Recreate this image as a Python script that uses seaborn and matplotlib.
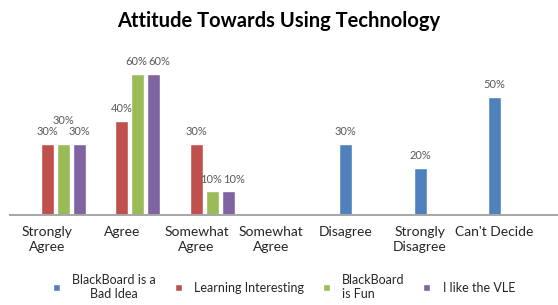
import pandas as pd
import matplotlib
matplotlib.use("Agg")
import matplotlib.pyplot as plt
import seaborn as sns

categories = ["Strongly\nAgree", "Agree", "Somewhat\nAgree", "Somewhat\nAgree",
              "Disagree", "Strongly\nDisagree", "Can't Decide"]
series_names = ["BlackBoard is a\nBad Idea", "Learning Interesting",
                "BlackBoard\nis Fun", "I like the VLE"]
bad_idea = [None, None, None, None, 30, 20, 50]
learning = [30, 40, 30, None, None, None, None]
bb_fun = [30, 60, 10, None, None, None, None]
like_vle = [30, 60, 10, None, None, None, None]

colors = ["#4F81BD", "#C0504D", "#9BBB59", "#8064A2"]
# where each series sits inside a category slot
offsets = [0.0, 0.0, 0.215, 0.43]

rows = []
for name, vals, off in zip(series_names, [bad_idea, learning, bb_fun, like_vle], offsets):
    for i, v in enumerate(vals):
        if v is not None:
            rows.append({"series": name, "pos": i + off, "value": v})
df = pd.DataFrame(rows)

sns.set_theme(style="white")
plt.rcParams["font.family"] = ["Lato", "DejaVu Sans"]

fig = plt.figure(figsize=(5.58, 3.05), dpi=100)
ax = fig.add_axes([0.018, 0.295, 0.982, 0.541])

sns.barplot(data=df, x="pos", y="value", hue="series", hue_order=series_names,
            palette=colors, native_scale=True, dodge=False, width=0.81,
            saturation=1, ax=ax)

label_sets = []
for cont in ax.containers:
    label_sets.append(ax.bar_label(cont, fmt="%g%%", padding=5, fontsize=8,
                                   color="#595959"))

# Excel nudges labels so neighbours don't collide
for t in label_sets[2]:
    x, y = t.xy
    if abs(x - 0.215) < 0.01:
        t.xyann = (t.xyann[0], t.xyann[1] + 8)
for tg, tp in zip(label_sets[2], label_sets[3]):
    if abs(tg.xy[1] - tp.xy[1]) < 0.01 and tg.xy[0] > 0.5:
        tg.xyann = (tg.xyann[0] - 1, tg.xyann[1])
        tp.xyann = (tp.xyann[0] + 4, tp.xyann[1])

ax.set_xlim(-0.5, 6.85)
ax.set_ylim(0, 70)
ax.set_xticks(range(len(categories)))
ax.set_xticklabels(categories, fontsize=10, color="#262626", linespacing=1.25)
ax.tick_params(axis="x", length=0, pad=8)
ax.set_yticks([])
ax.set_xlabel("")
ax.set_ylabel("")
for s in ["top", "right", "left"]:
    ax.spines[s].set_visible(False)
ax.spines["bottom"].set_color("#A6A6A6")
ax.spines["bottom"].set_linewidth(1.4)

fig.text(0.5, 0.93, "Attitude Towards Using Technology", ha="center", va="center",
         fontsize=14.5, fontweight="bold", color="#000000")

sns.move_legend(ax, "upper center", bbox_to_anchor=(0.5, -0.29), ncol=4,
                frameon=False, title=None, fontsize=9, handlelength=0.55,
                handleheight=0.55, handletextpad=1.0, columnspacing=1.5)
leg = ax.get_legend()
leg.get_texts()[0].set_multialignment("center")
for t in leg.get_texts():
    t.set_color("#262626")

fig.savefig("out.png", dpi=100)
